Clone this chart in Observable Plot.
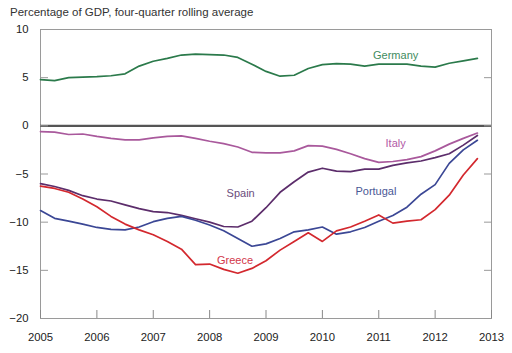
<!DOCTYPE html>
<html><head><meta charset="utf-8">
<script src="https://cdn.jsdelivr.net/npm/d3@7"></script>
<script src="https://cdn.jsdelivr.net/npm/@observablehq/plot@0.6"></script>
<style>
body{margin:0;background:#fff;font-family:"Liberation Sans",Arial,sans-serif;}
#title{height:17px;padding-top:5px;padding-left:10px;font-size:11.5px;line-height:15px;color:#333;}
</style></head><body>
<div id="title">Percentage of GDP, four-quarter rolling average</div>
<div id="chart"></div>
<script>
const quarters = [2005,2005.25,2005.5,2005.75,2006,2006.25,2006.5,2006.75,2007,2007.25,2007.5,2007.75,
  2008,2008.25,2008.5,2008.75,2009,2009.25,2009.5,2009.75,2010,2010.25,2010.5,2010.75,
  2011,2011.25,2011.5,2011.75,2012,2012.25,2012.5,2012.75];
const germany = [4.8,4.7,5.0,5.05,5.1,5.2,5.4,6.2,6.7,7.0,7.35,7.45,7.4,7.35,7.1,6.4,5.65,5.15,5.25,5.95,6.35,6.45,6.4,6.2,6.4,6.4,6.4,6.2,6.1,6.5,6.75,7.0];
const italy = [-0.6,-0.65,-0.9,-0.85,-1.1,-1.3,-1.45,-1.45,-1.25,-1.1,-1.05,-1.3,-1.6,-1.85,-2.2,-2.75,-2.8,-2.8,-2.6,-2.05,-2.1,-2.45,-2.9,-3.4,-3.8,-3.7,-3.5,-3.2,-2.6,-1.9,-1.3,-0.75];
const spain = [-6.0,-6.3,-6.7,-7.25,-7.6,-7.8,-8.2,-8.6,-8.9,-9.0,-9.3,-9.65,-10.0,-10.45,-10.5,-9.9,-8.5,-6.9,-5.8,-4.8,-4.4,-4.7,-4.75,-4.5,-4.5,-4.1,-3.85,-3.65,-3.3,-2.9,-2.0,-1.0];
const portugal = [-8.8,-9.6,-9.9,-10.2,-10.55,-10.75,-10.8,-10.5,-9.95,-9.6,-9.4,-9.8,-10.3,-10.9,-11.7,-12.5,-12.25,-11.7,-11.0,-10.8,-10.5,-11.25,-11.0,-10.55,-9.9,-9.3,-8.45,-7.1,-6.1,-3.9,-2.5,-1.5];
const greece = [-6.25,-6.5,-6.9,-7.6,-8.4,-9.4,-10.2,-10.8,-11.3,-12.0,-12.8,-14.4,-14.35,-14.9,-15.3,-14.8,-14.0,-12.9,-12.0,-11.1,-12.0,-10.9,-10.5,-9.9,-9.25,-10.1,-9.9,-9.75,-8.7,-7.2,-5.1,-3.4];
const countries = ["Germany","Italy","Spain","Portugal","Greece"];
const lineColors = ["#2b7a4b","#a9599c","#5c2d6b","#3b4795","#d3282e"];
const labelColors = ["#3f8c5e","#b25aa6","#6b4c7c","#4a5896","#d2364a"];
const labelX = [2011.3, 2011.3, 2008.55, 2010.95, 2008.45];
const labelY = [7.3, -1.8, -7.0, -6.8, -14.0];
const yTicks = [10,5,0,-5,-10,-15,-20];
const xTicks = [2005,2006,2007,2008,2009,2010,2011,2012,2013];

const seriesValues = [germany, italy, spain, portugal, greece];
const rows = countries.flatMap((c, k) => quarters.map((q, i) => ({country: c, t: q, v: seriesValues[k][i]})));
const labels = countries.map((c, k) => ({country: c, x: labelX[k], y: labelY[k]}));

const plot = Plot.plot({
  width: 512, height: 331,
  marginTop: 7, marginBottom: 35, marginLeft: 40, marginRight: 21,
  style: {fontFamily: "'Liberation Sans', Arial, sans-serif", fontSize: "11px", color: "#222", background: "#fff"},
  x: {domain: [2005, 2013]},
  y: {domain: [-20, 10]},
  color: {domain: countries, range: lineColors},
  marks: [
    Plot.frame({stroke: "#9a9a9a", strokeWidth: 1}),
    Plot.ruleY([0], {stroke: "#555", strokeWidth: 2.2}),
    Plot.axisX(xTicks, {tickSize: -8, tickFormat: d => String(d), tickPadding: 22, stroke: "#888", fill: "#222", label: null, fontSize: 11.3}),
    Plot.axisY(yTicks, {anchor: "left", tickSize: -8, tickPadding: 20, stroke: "#999", fill: "#222", label: null, fontSize: 11.3}),
    Plot.axisY(yTicks, {anchor: "right", tickSize: -8, tickFormat: () => "", stroke: "#999", label: null}),
    Plot.line(rows, {x: "t", y: "v", z: "country", stroke: "country", strokeWidth: 1.7}),
    Plot.text(labels, {x: "x", y: "y", text: "country", fill: (d) => labelColors[countries.indexOf(d.country)], fontSize: 11})
  ]
});
document.getElementById("chart").appendChild(plot);
</script>
</body></html>
